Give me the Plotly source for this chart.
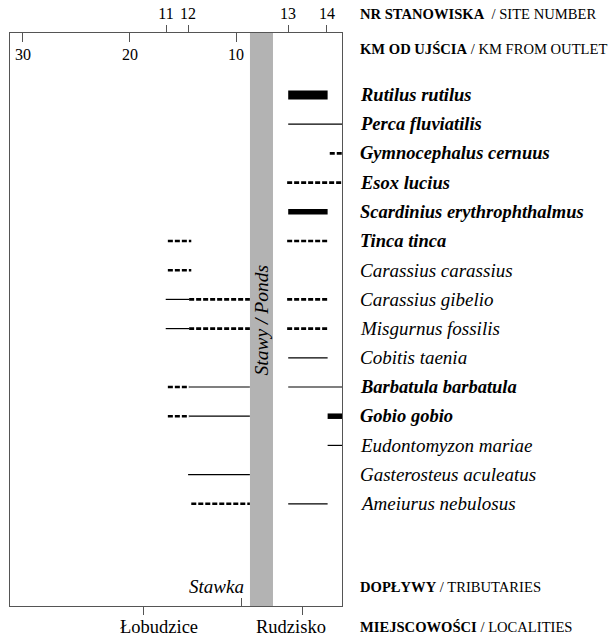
import plotly.graph_objects as go

# ---------------- data ----------------
species = [
    "Rutilus rutilus", "Perca fluviatilis", "Gymnocephalus cernuus", "Esox lucius",
    "Scardinius erythrophthalmus", "Tinca tinca", "Carassius carassius",
    "Carassius gibelio", "Misgurnus fossilis", "Cobitis taenia",
    "Barbatula barbatula", "Gobio gobio", "Eudontomyzon mariae",
    "Gasterosteus aculeatus", "Ameiurus nebulosus",
]
species_bold = [True, True, True, True, True, True, False, False, False, False,
                True, True, False, False, False]

# segments: species, km start, km end, style
seg_species = [
    "Rutilus rutilus", "Perca fluviatilis", "Gymnocephalus cernuus", "Esox lucius",
    "Scardinius erythrophthalmus",
    "Tinca tinca", "Tinca tinca",
    "Carassius carassius",
    "Carassius gibelio", "Carassius gibelio", "Carassius gibelio",
    "Misgurnus fossilis", "Misgurnus fossilis", "Misgurnus fossilis",
    "Cobitis taenia",
    "Barbatula barbatula", "Barbatula barbatula", "Barbatula barbatula",
    "Gobio gobio", "Gobio gobio", "Gobio gobio",
    "Eudontomyzon mariae",
    "Gasterosteus aculeatus",
    "Ameiurus nebulosus", "Ameiurus nebulosus",
]
seg_start = [5.1, 5.1, 1.2, 5.2, 5.1,
             16.4, 5.2,
             16.4,
             16.6, 14.4, 5.2,
             16.6, 14.4, 5.2,
             5.1,
             16.4, 14.4, 5.1,
             16.4, 14.4, 1.4,
             1.4,
             14.5,
             14.2, 5.1]
seg_end = [1.4, 0.0, 0.0, 0.0, 1.4,
           14.2, 1.3,
           14.2,
           14.4, 8.7, 1.3,
           14.4, 8.7, 1.3,
           1.4,
           14.4, 8.7, 0.0,
           14.4, 8.7, 0.0,
           0.0,
           8.7,
           8.7, 1.4]
seg_style = ["thick", "thin", "dash", "dash", "medium",
             "dash", "dash",
             "dash",
             "thin", "dash", "dash",
             "thin", "dash", "dash",
             "thin",
             "dash", "thin", "thin",
             "dash", "thin", "medium",
             "thin",
             "thin",
             "dash", "thin"]

km_ticks = [30, 20, 10]
site_km = [16.57, 14.5, 5.12, 1.46]
site_labels = ["11", "12", "13", "14"]
locality_km = [18.73, 3.80]
locality_names = ["Łobudzice", "Rudzisko"]
locality_label_km = [17.2, 4.85]
tributary_km = 9.53
tributary_name = "Stawka"
ponds_km = [8.69, 6.53]

FONT = "Liberation Serif"
FRAME = "#555555"

styles = {
    "thin": dict(width=1.2, dash="solid"),
    "dash": dict(width=2.6, dash="5px,2px"),
    "medium": dict(width=5.5, dash="solid"),
    "thick": dict(width=9, dash="solid"),
}

fig = go.Figure()

# ponds band
fig.add_vrect(x0=ponds_km[0], x1=ponds_km[1], fillcolor="#b3b3b3", line_width=0,
              layer="below")

row_of = {s: i for i, s in enumerate(species)}
for st, lw in styles.items():
    xs, ys = [], []
    for sp, a, b, s in zip(seg_species, seg_start, seg_end, seg_style):
        if s == st:
            xs += [a, b, None]
            ys += [row_of[sp], row_of[sp], None]
    fig.add_trace(go.Scatter(x=xs, y=ys, mode="lines", showlegend=False,
                             hoverinfo="skip",
                             line=dict(color="black", width=lw["width"], dash=lw["dash"])))

# invisible traces for overlay axes
for ax in ["x2", "x3", "x4"]:
    fig.add_trace(go.Scatter(x=[10], y=[0], xaxis=ax, yaxis="y", mode="markers",
                             marker=dict(opacity=0), showlegend=False, hoverinfo="skip"))

xr = [31.22, 0.05]
common = dict(range=xr, showgrid=False, zeroline=False, fixedrange=True, automargin=False)

fig.update_layout(
    width=613, height=638,
    margin=dict(l=10, r=271, t=33, b=32, autoexpand=False),
    paper_bgcolor="white", plot_bgcolor="white",
    font=dict(family=FONT, color="black"),
    xaxis=dict(**common, side="bottom", showline=True, mirror=True, linecolor=FRAME,
               linewidth=1, ticks="outside", ticklen=8, tickcolor=FRAME,
               tickvals=locality_km, showticklabels=False),
    xaxis2=dict(**common, overlaying="x", side="top", anchor="y", showline=False,
                ticks="inside", ticklen=9, tickcolor=FRAME, tickvals=km_ticks,
                showticklabels=False),
    xaxis3=dict(**common, overlaying="x", side="top", anchor="y", showline=False,
                ticks="outside", ticklen=7, tickcolor=FRAME, tickvals=site_km,
                ticktext=site_labels, tickfont=dict(size=16, family=FONT)),
    xaxis4=dict(**common, overlaying="x", side="bottom", anchor="y", showline=False,
                ticks="inside", ticklen=8, tickcolor=FRAME, tickvals=[tributary_km],
                showticklabels=False),
    yaxis=dict(range=[17.5, -2.123], showgrid=False, zeroline=False, showline=True,
               mirror=True, linecolor=FRAME, linewidth=1, showticklabels=False,
               ticks="", fixedrange=True, automargin=False),
)

LX = 1.049
ann = []
# km labels inside the frame
for k in km_ticks:
    ann.append(dict(x=k, y=0.962, xref="x", yref="paper", text=str(k), showarrow=False,
                    font=dict(size=16), xanchor="center", yanchor="middle"))
# species labels
for i, (s, b) in enumerate(zip(species, species_bold)):
    t = f"<b><i>{s}</i></b>" if b else f"<i>{s}</i>"
    ann.append(dict(x=LX, y=i, xref="paper", yref="y", text=t, showarrow=False,
                    font=dict(size=18.5 if b else 19), xanchor="left", yanchor="middle"))
# header / footer labels
heads = [
    (1.033, "<b>NR STANOWISKA</b>  / SITE NUMBER"),
    (0.972, "<b>KM OD UJŚCIA</b> / KM FROM OUTLET"),
    (0.0332, "<b>DOPŁYWY</b> / TRIBUTARIES"),
    (-0.0366, "<b>MIEJSCOWOŚCI</b> / LOCALITIES"),
]
for y, t in heads:
    ann.append(dict(x=LX, y=y, xref="paper", yref="paper", text=t, showarrow=False,
                    font=dict(size=14.6), xanchor="left", yanchor="middle"))
# localities
for k, n in zip(locality_label_km, locality_names):
    ann.append(dict(x=k, y=-0.037, xref="x", yref="paper", text=n, showarrow=False,
                    font=dict(size=18.5), xanchor="center", yanchor="middle"))
# tributary
ann.append(dict(x=9.1, y=0.0332, xref="x", yref="paper", text=f"<i>{tributary_name}</i>",
                showarrow=False, font=dict(size=19), xanchor="right", yanchor="middle"))
# ponds
ann.append(dict(x=sum(ponds_km) / 2, y=(606 - 320) / 573, xref="x", yref="paper",
                text="<i>Stawy / Ponds</i>", textangle=-90, showarrow=False,
                font=dict(size=19.5), xanchor="center", yanchor="middle"))
fig.update_layout(annotations=ann)

fig.write_html("out.html", post_script="document.body.style.margin='0';",
               config={"displayModeBar": False})
